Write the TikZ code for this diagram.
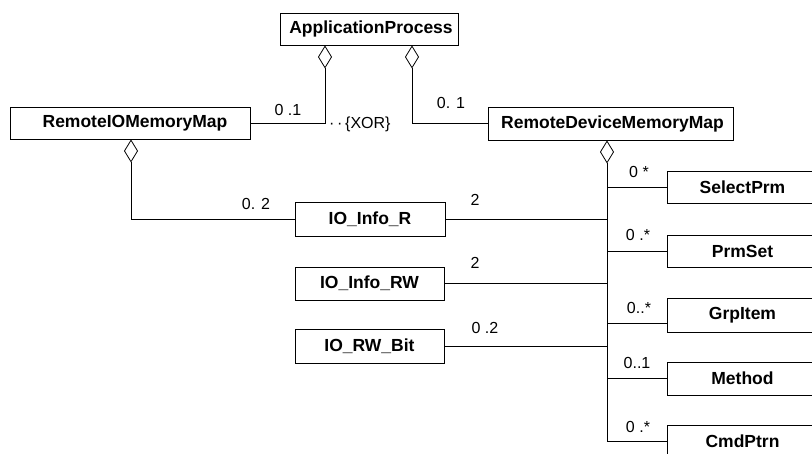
\documentclass[tikz,border=0pt]{standalone}
\usepackage{fontspec}
\setmainfont{Liberation Sans}
\usetikzlibrary{arrows.meta}
\begin{document}
\begin{tikzpicture}[x=1pt,y=-1pt,
  cls/.style={draw, line width=0.9pt, inner sep=0pt, minimum height=33pt, font=\fontsize{17.5}{19}\selectfont\bfseries},
  lnk/.style={line width=0.8pt},
  agg/.style={lnk, {Diamond[open,length=23pt,width=14pt,line width=0.8pt]}-},
  mult/.style={font=\fontsize{16}{18}\selectfont, inner sep=0pt}
]
\clip (0,0) rectangle (812,453);
% classes
\node[cls, minimum width=178pt, minimum height=32pt] (ap) at (369,29) {\hspace*{4pt}ApplicationProcess};
\node[cls, minimum width=240pt, minimum height=32pt] (rio) at (130,123) {\hspace*{10pt}RemoteIOMemoryMap};
\node[cls, minimum width=245pt] (rdm) at (610.5,123.5) {\hspace*{4pt}RemoteDeviceMemoryMap};
\node[cls, minimum width=150pt, minimum height=34pt] (ior) at (370,219) {IO\_Info\_R};
\node[cls, minimum width=149pt] (iorw) at (369.5,283.5) {IO\_Info\_RW};
\node[cls, minimum width=149pt, minimum height=34pt] (iorb) at (369.5,346) {IO\_RW\_Bit};
\node[cls, minimum width=151pt, minimum height=32pt] (sel) at (742.5,187.5) {SelectPrm};
\node[cls, minimum width=151pt, minimum height=32pt] (prm) at (742.5,251) {PrmSet};
\node[cls, minimum width=151pt, minimum height=34pt] (grp) at (742.5,315) {GrpItem};
\node[cls, minimum width=151pt] (meth) at (742.5,378.5) {Method};
\node[cls, minimum width=151pt] (cmd) at (742.5,441.5) {CmdPtrn};
% aggregations
\draw[agg] ([xshift=-44pt]ap.south) |- (rio.east);
\draw[agg] ([xshift=43pt]ap.south) |- (rdm.west);
\draw[agg] ([xshift=1pt]rio.south) |- (ior.west);
\coordinate (trunk) at ([xshift=-3.5pt]rdm.south);
\draw[agg] (trunk) |- (cmd.west);
\draw[lnk] (ior.east) -- (ior.east -| trunk);
\draw[lnk] (iorw.east) -- (iorw.east -| trunk);
\draw[lnk] (iorb.east) -- (iorb.east -| trunk);
\draw[lnk] (sel.west) -- (sel.west -| trunk);
\draw[lnk] (prm.west) -- (prm.west -| trunk);
\draw[lnk] ([yshift=-8pt]grp.west) -- ([yshift=-8pt]grp.west -| trunk);
\draw[lnk] (meth.west) -- (meth.west -| trunk);
% labels
\node[mult] (l1) at (288,110) {0 .1};
\node[mult] (l2) at (451,103) {0. 1};
\node[mult, anchor=west] (xor) at (329,124) {·\,·\,\{XOR\}};
\node[mult] (l3) at (256,204) {0. 2};
\node[mult] (l4) at (475,200) {2};
\node[mult] (l5) at (475,263) {2};
\node[mult] (l6) at (485,328) {0 .2};
\node[mult] (r1) at (639,172) {0 *};
\node[mult] (r2) at (638,235) {0 .*};
\node[mult] (r3) at (639,308) {0..*};
\node[mult] (r4) at (637,363) {0..1};
\node[mult] (r5) at (638,427) {0 .*};
\end{tikzpicture}
\end{document}
